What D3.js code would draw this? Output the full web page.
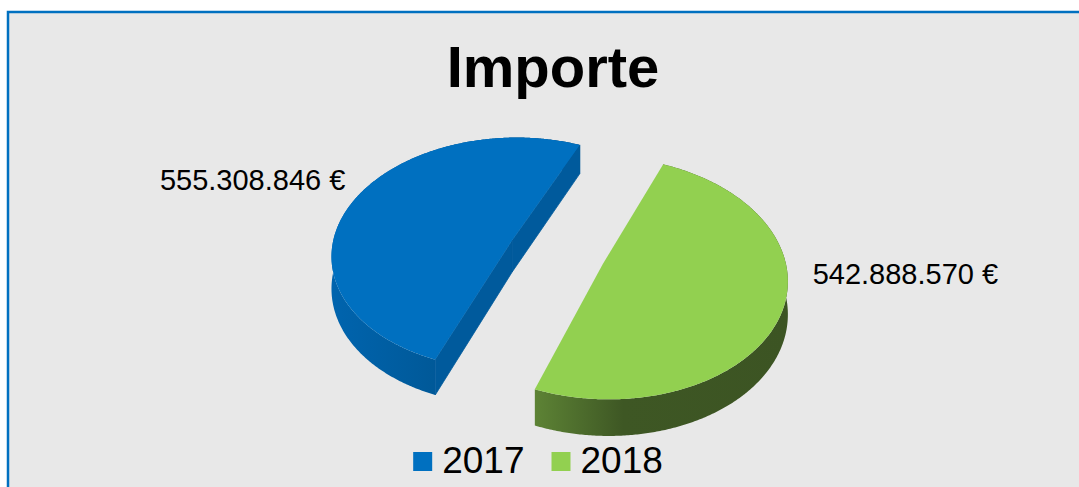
<!DOCTYPE html>
<html>
<head>
<meta charset="utf-8">
<script src="https://cdn.jsdelivr.net/npm/d3@7"></script>
<style>
  html, body { margin: 0; padding: 0; background: #ffffff; }
  svg { display: block; font-family: "Liberation Sans", Arial, sans-serif; }
</style>
</head>
<body>
<div id="chart"></div>
<script>
const WIDTH = 1079;
const HEIGHT = 487;

// data
const years = ["2017", "2018"];
const importes = [555308846, 542888570];
const topColors = ["#0070c0", "#92d050"];
const sideColors = ["#005a9c", "#4a6a2a"];
const wallStops = [
    ["#0064ae", "#00548f", "#00416e"],
    ["#5d8335", "#3e5724", "#3c5423"]
];
const title = "Importe";

// 3d projection params
const CX = 557, CY = 252;
const RX = 181, RY = 117;
const K = 0.114;      // perspective
const DEPTH = 32;
const EXPLODE = 0.27;
const FIRST_ANGLE = 201; // degrees

const locale = d3.formatLocale({ decimal: ",", thousands: ".", grouping: [3], currency: ["", " €"] });
const fmt = locale.format("$,.0f");

function proj(x, z, h) {
    const s = 1 / (1 + K * z);
    return [CX + RX * x * s, CY - RY * z * s + DEPTH * h * s];
}

const svg = d3.select("#chart")
    .append("svg")
    .attr("width", WIDTH)
    .attr("height", HEIGHT);

// chart area
svg.append("rect")
    .attr("x", 8)
    .attr("y", 12)
    .attr("width", WIDTH + 20)
    .attr("height", HEIGHT + 20)
    .attr("fill", "#e8e8e8")
    .attr("stroke", "#0070c0")
    .attr("stroke-width", 2.5);

svg.append("text")
    .attr("x", 553)
    .attr("y", 87)
    .attr("text-anchor", "middle")
    .style("font-size", "58px")
    .style("font-weight", "bold")
    .text(title);

const defs = svg.append("defs");
const stopOffsets = [[0, 0.6, 1], [0, 0.35, 1]];
wallStops.forEach((stops, i) => {
    const g = defs.append("linearGradient")
        .attr("id", `wall${i}`)
        .attr("x1", 0).attr("x2", 1).attr("y1", 0).attr("y2", 0);
    stops.forEach((c, j) => {
        g.append("stop")
            .attr("offset", stopOffsets[i][j])
            .attr("stop-color", c);
    });
});

const start = FIRST_ANGLE * Math.PI / 180;
const arcs = d3.pie().sort(null).startAngle(start).endAngle(start + 2 * Math.PI)(importes);

const line = d3.line();
const pieG = svg.append("g");

arcs.forEach((a, i) => {
    const mid = (a.startAngle + a.endAngle) / 2;
    const ox = EXPLODE * Math.sin(mid);
    const oz = EXPLODE * Math.cos(mid);
    const angs = d3.range(a.startAngle, a.endAngle, Math.PI / 360).concat([a.endAngle]);
    const rim = (ang, h) => proj(ox + Math.sin(ang), oz + Math.cos(ang), h);
    const topRim = angs.map((ang) => rim(ang, 0));
    const botRim = angs.map((ang) => rim(ang, 1));
    const apexTop = proj(ox, oz, 0);
    const apexBot = proj(ox, oz, 1);

    const g = pieG.append("g").attr("class", "slice");

    // outer wall
    g.append("path")
        .attr("d", line(topRim.concat(botRim.slice().reverse())) + "Z")
        .attr("fill", `url(#wall${i})`);

    // radial faces, only those turned to the viewer
    // outward normal: start -> (-cos, sin), end -> (cos, -sin)
    [[a.startAngle, true], [a.endAngle, false]].forEach(([ang, isStart]) => {
        const nz = isStart ? Math.sin(ang) : -Math.sin(ang);
        if (nz >= 0) return;
        g.append("path")
            .attr("d", line([apexTop, rim(ang, 0), rim(ang, 1), apexBot]) + "Z")
            .attr("fill", sideColors[i])
            .attr("stroke", sideColors[i])
            .attr("stroke-width", 0.8)
            .attr("stroke-linejoin", "round");
    });

    // top face
    g.append("path")
        .attr("d", line([apexTop].concat(topRim)) + "Z")
        .attr("fill", topColors[i]);

    // data label
    const lp = proj(ox + 1.15 * Math.sin(mid), oz + 1.15 * Math.cos(mid), 0);
    const left = Math.sin(mid) < 0;
    svg.append("text")
        .attr("x", left ? lp[0] + 13 : lp[0] + 2)
        .attr("y", left ? lp[1] - 3 : lp[1] - 34)
        .attr("text-anchor", left ? "end" : "start")
        .style("font-size", "29px")
        .text(fmt(importes[i]));
});

// legend
const legend = svg.append("g");
let lx = 0;
years.forEach((y, i) => {
    const item = legend.append("g").attr("transform", `translate(${lx},0)`);
    item.append("rect")
        .attr("x", 0)
        .attr("y", -21)
        .attr("width", 19)
        .attr("height", 19)
        .attr("fill", topColors[i]);
    const t = item.append("text")
        .attr("x", 29)
        .attr("y", 0)
        .style("font-size", "37px")
        .text(y);
    lx += 29 + t.node().getComputedTextLength() + 27;
});
const legendW = lx - 27;
legend.attr("transform", `translate(${538 - legendW / 2},473)`);
</script>
</body>
</html>
